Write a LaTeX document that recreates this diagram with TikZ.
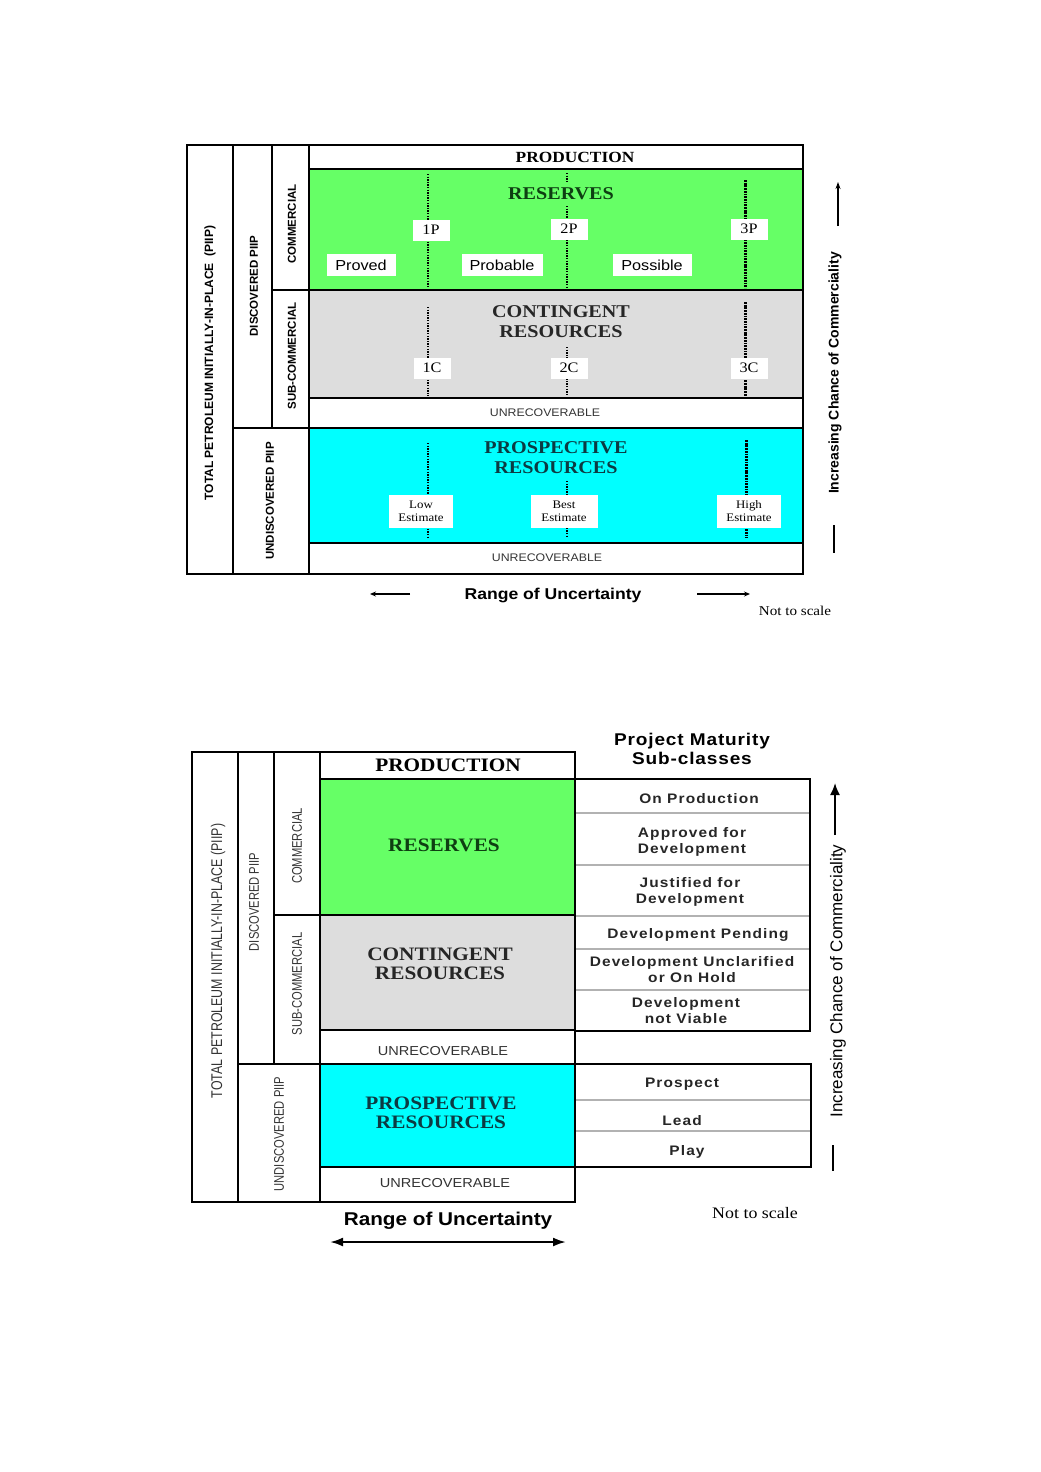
\documentclass[tikz,border=0pt]{standalone}
\usepackage{fontspec}
\setmainfont[FakeStretch=1.12]{Liberation Serif}
\setsansfont[FakeStretch=1.12]{Liberation Sans}
\newfontfamily\rsans{Liberation Sans}
\newfontfamily\nsans[FakeStretch=0.8]{Liberation Sans}
\newfontfamily\wsans[FakeStretch=1.12,LetterSpace=5]{Liberation Sans}
\newfontfamily\wwsans[FakeStretch=1.12,LetterSpace=8]{Liberation Sans}
\usetikzlibrary{arrows.meta}
\definecolor{resgreen}{HTML}{66FF66}
\definecolor{congray}{HTML}{DDDDDD}
\definecolor{procyan}{HTML}{00FFFF}
\definecolor{dkgreen}{HTML}{0E3F12}
\definecolor{dkteal}{HTML}{0C3A42}
\definecolor{txtgray}{HTML}{333333}
\newcommand\fsz[1]{\fontsize{#1}{#1}\selectfont}
\newcommand\fszb[2]{\fontsize{#1}{#2}\selectfont}
\tikzset{
  frame/.style={line width=2.7pt},
  sepline/.style={line width=1.1pt, draw=gray!60},
  dotline/.style={line width=2pt, dash pattern=on 1.3pt off 1.3pt},
  dotthick/.style={line width=3pt, dash pattern=on 1.8pt off 0.9pt},
  numbox/.style={fill=white, inner sep=0pt, minimum width=37pt, minimum height=21pt, font=\rmfamily\fsz{14.5}},
  catbox/.style={fill=white, inner sep=0pt, minimum height=22pt, font=\sffamily\fsz{14.5}},
  estbox/.style={fill=white, inner sep=0pt, minimum width=64pt, minimum height=33pt, align=center, font=\rmfamily\fszb{11.5}{13}},
  title/.style={inner sep=0pt, align=center},
  unrec/.style={inner sep=0pt, text=txtgray},
  sidelab/.style={rotate=90, inner sep=0pt},
  subcls/.style={inner sep=0pt, align=center, text=black!85, font=\wwsans\bfseries\fszb{13.8}{16}},
}
\begin{document}
\begin{tikzpicture}[x=1pt,y=-1pt]
\useasboundingbox (0,0) rectangle (1041,1472);
% ================= TOP DIAGRAM =================
\fill[resgreen] (309,169) rectangle (803,290);
\fill[congray] (309,290) rectangle (803,398);
\fill[procyan] (309,428) rectangle (803,543);
% dotted lines
\draw[dotline] (428,174) -- (428,288);
\draw[dotline] (567,173) -- (567,182);
\draw[dotline] (567,206) -- (567,288);
\draw[dotthick] (745,180) -- (745,288);
\draw[dotline] (428,307) -- (428,396);
\draw[dotline] (567,347) -- (567,396);
\draw[dotthick] (745,302) -- (745,396);
\draw[dotline] (428,443) -- (428,538);
\draw[dotline] (567,481) -- (567,538);
\draw[dotthick] (746,440) -- (746,538);
% frame
\draw[frame] (187,145) rectangle (803,574);
\draw[frame] (233,145) -- (233,574);
\draw[frame] (272,145) -- (272,428);
\draw[frame] (309,145) -- (309,574);
\draw[frame] (309,169) -- (803,169);
\draw[frame] (272,290) -- (803,290);
\draw[frame] (309,398) -- (803,398);
\draw[frame] (233,428) -- (803,428);
\draw[frame] (309,543) -- (803,543);
% texts
\node[title, font=\rmfamily\bfseries\fsz{15.5}] (prodA) at (575,157) {PRODUCTION};
\node[title, text=dkgreen, font=\rmfamily\bfseries\fsz{18}] (resA) at (561,194) {RESERVES};
\node[title, text=black!85, font=\rmfamily\bfseries\fszb{18}{20}] (conA) at (561,322) {CONTINGENT\\RESOURCES};
\node[title, text=dkteal, font=\rmfamily\bfseries\fszb{18}{20}] (proA) at (556,458) {PROSPECTIVE\\RESOURCES};
\node[unrec, font=\sffamily\fsz{11}] (unrA1) at (545,413) {UNRECOVERABLE};
\node[unrec, font=\sffamily\fsz{11}] (unrA2) at (547,558) {UNRECOVERABLE};
\node[numbox] (p1) at (431,230) {1P};
\node[numbox] (p2) at (569,229) {2P};
\node[numbox] (p3) at (749,229) {3P};
\node[catbox, minimum width=69pt] (proved) at (361,265) {Proved};
\node[catbox, minimum width=81pt] (probable) at (502,265) {Probable};
\node[catbox, minimum width=79pt] (possible) at (652,265) {Possible};
\node[numbox] (c1) at (432,368) {1C};
\node[numbox] (c2) at (569,368) {2C};
\node[numbox] (c3) at (749,368) {3C};
\node[estbox] (low) at (421,511) {Low\\Estimate};
\node[estbox, minimum width=67pt] (best) at (564,511) {Best\\Estimate};
\node[estbox] (high) at (749,511) {High\\Estimate};
% side labels
\node[sidelab, font=\rsans\bfseries\fsz{12}] (piipA) at (210,363) {TOTAL PETROLEUM INITIALLY-IN-PLACE\ \ (PIIP)};
\node[sidelab, font=\rsans\bfseries\fsz{11.5}] (discA) at (254,286) {DISCOVERED PIIP};
\node[sidelab, font=\rsans\bfseries\fsz{11.5}] (commA) at (292,224) {COMMERCIAL};
\node[sidelab, font=\rsans\bfseries\fsz{11.5}] (subA) at (292,356) {SUB-COMMERCIAL};
\node[sidelab, font=\rsans\bfseries\fsz{11.5}] (undA) at (270,501) {UNDISCOVERED PIIP};
\node[sidelab, font=\rsans\bfseries\fsz{14}] (incA) at (835,373) {Increasing Chance of Commerciality};
\coordinate (incA1) at (838,226);
\coordinate (incA2) at (838,182);
\draw[line width=1.6pt, -{Stealth[length=7pt, width=5pt]}] (incA1) -- (incA2);
\coordinate (incA3) at (834,525);
\coordinate (incA4) at (834,553);
\draw[line width=2.4pt] (incA3) -- (incA4);
\node[inner sep=0pt, font=\sffamily\bfseries\fsz{15.7}] (rngA) at (553,595) {Range of Uncertainty};
\coordinate (rA1) at (410,594);
\coordinate (rA2) at (370,594);
\coordinate (rA3) at (697,594);
\coordinate (rA4) at (750,594);
\draw[line width=1.5pt, -{Stealth[length=6pt, width=5pt]}] (rA1) -- (rA2);
\draw[line width=1.5pt, -{Stealth[length=6pt, width=5pt]}] (rA3) -- (rA4);
\node[inner sep=0pt, font=\rmfamily\fsz{13.5}] (ntsA) at (795,611) {Not to scale};
% ================= BOTTOM DIAGRAM =================
\fill[resgreen] (320,779) rectangle (575,915);
\fill[congray] (320,915) rectangle (575,1030);
\fill[procyan] (320,1064) rectangle (575,1167);
% sub-class separators
\foreach \yy in {813,865,916,949,990} \draw[sepline] (576,\yy) -- (809,\yy);
\foreach \yy in {1100,1131} \draw[sepline] (576,\yy) -- (810,\yy);
\draw[frame] (192,752) rectangle (575,1202);
\draw[frame] (238,752) -- (238,1202);
\draw[frame] (274,752) -- (274,1064);
\draw[frame] (320,752) -- (320,1202);
\draw[frame] (320,779) -- (575,779);
\draw[frame] (274,915) -- (575,915);
\draw[frame] (320,1030) -- (575,1030);
\draw[frame] (238,1064) -- (575,1064);
\draw[frame] (320,1167) -- (575,1167);
\draw[frame] (575,779) rectangle (810,1031);
\draw[frame] (575,1064) rectangle (811,1167);
% texts
\node[title, font=\rmfamily\bfseries\fsz{19}] (prodB) at (448,765) {PRODUCTION};
\node[title, text=dkgreen, font=\rmfamily\bfseries\fsz{19}] (resB) at (444,845) {RESERVES};
\node[title, text=black!85, font=\rmfamily\bfseries\fszb{19}{19}] (conB) at (440,964) {CONTINGENT\\RESOURCES};
\node[title, text=dkteal, font=\rmfamily\bfseries\fszb{19}{19}] (proB) at (441,1113) {PROSPECTIVE\\RESOURCES};
\node[unrec, font=\sffamily\fsz{13}] (unrB1) at (443,1051) {UNRECOVERABLE};
\node[unrec, font=\sffamily\fsz{13}] (unrB2) at (445,1183) {UNRECOVERABLE};
\node[inner sep=0pt, align=center, font=\wsans\bfseries\fszb{17}{19}] (pms) at (692,749) {Project Maturity\\Sub-classes};
\node[subcls] (s1) at (699,799) {On Production};
\node[subcls] (s2) at (692,842) {Approved for\\Development};
\node[subcls] (s3) at (690,892) {Justified for\\Development};
\node[subcls] (s4) at (698,935) {Development Pending};
\node[subcls] (s5) at (692,970) {Development Unclarified\\or On Hold};
\node[subcls] (s6) at (686,1011) {Development\\not Viable};
\node[subcls] (s7) at (682,1084) {Prospect};
\node[subcls] (s8) at (682,1121) {Lead};
\node[subcls] (s9) at (687,1152) {Play};
\node[sidelab, text=txtgray, font=\nsans\fsz{15.5}] (piipB) at (218,961) {TOTAL PETROLEUM INITIALLY-IN-PLACE (PIIP)};
\node[sidelab, text=txtgray, font=\nsans\fsz{14}] (discB) at (254,902) {DISCOVERED PIIP};
\node[sidelab, text=txtgray, font=\nsans\fsz{14}] (commB) at (297,846) {COMMERCIAL};
\node[sidelab, text=txtgray, font=\nsans\fsz{14}] (subB) at (297,984) {SUB-COMMERCIAL};
\node[sidelab, text=txtgray, font=\nsans\fsz{14}] (undB) at (279,1134) {UNDISCOVERED PIIP};
\node[sidelab, font=\rsans\fsz{17}] (incB) at (838,981) {Increasing Chance of Commerciality};
\coordinate (incB1) at (835,835);
\coordinate (incB2) at (835,783);
\draw[line width=1.8pt, -{Latex[length=12pt, width=10pt]}] (incB1) -- (incB2);
\coordinate (incB3) at (833,1145);
\coordinate (incB4) at (833,1171);
\draw[line width=2pt] (incB3) -- (incB4);
\node[inner sep=0pt, font=\sffamily\bfseries\fsz{18.5}] (rngB) at (448,1221) {Range of Uncertainty};
\coordinate (rB1) at (330,1242);
\coordinate (rB2) at (566,1242);
\draw[line width=2.2pt, {Latex[length=13pt, width=9pt]}-{Latex[length=13pt, width=9pt]}] (rB1) -- (rB2);
\node[inner sep=0pt, font=\rmfamily\fsz{16}] (ntsB) at (755,1213) {Not to scale};
\end{tikzpicture}
\end{document}
